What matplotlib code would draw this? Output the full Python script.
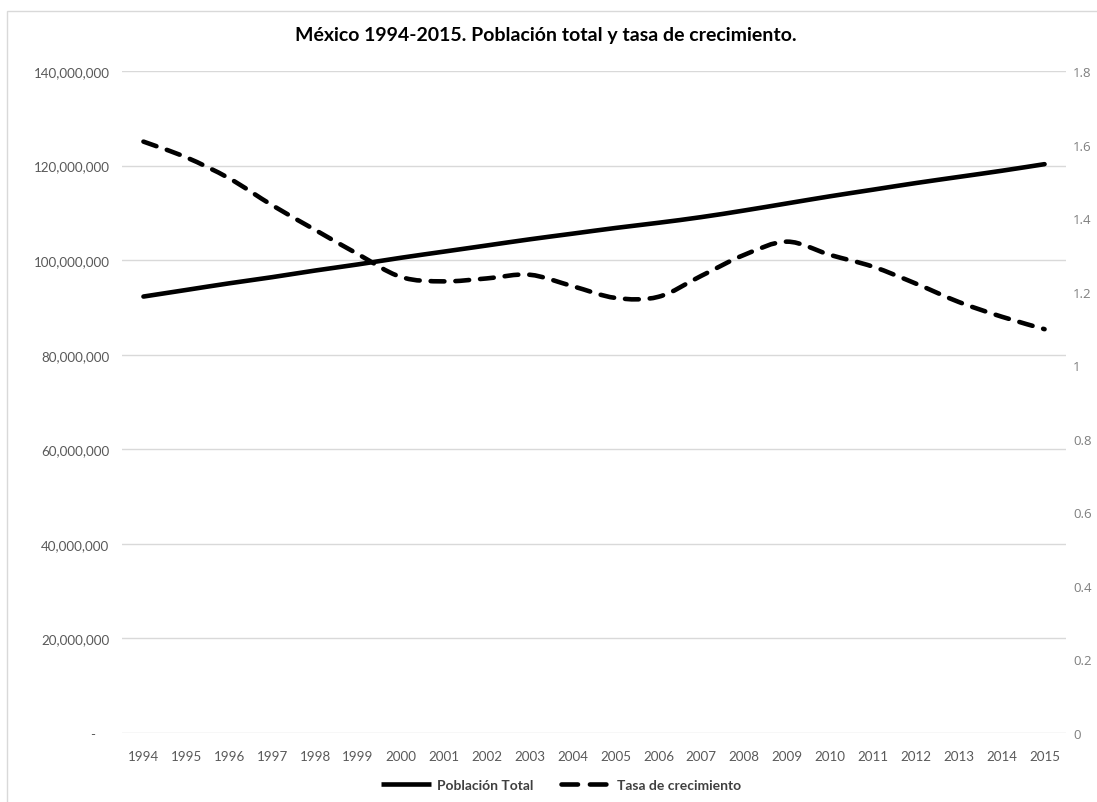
import numpy as np
import matplotlib
matplotlib.use("Agg")
import matplotlib.pyplot as plt
from matplotlib.path import Path
from matplotlib.patches import PathPatch, Rectangle
from matplotlib.lines import Line2D
from matplotlib.ticker import FuncFormatter, MultipleLocator

# datos
years = list(range(1994, 2016))
poblacion = [92.3, 93.7, 95.1, 96.4, 97.8, 99.1, 100.5, 101.8, 103.1, 104.4, 105.6,
             106.8, 107.9, 109.1, 110.5, 112.0, 113.5, 114.9, 116.3, 117.6, 118.9, 120.3]
poblacion = [p * 1e6 for p in poblacion]
tasa = [1.608, 1.565, 1.508, 1.435, 1.368, 1.302, 1.240, 1.228, 1.236, 1.246, 1.215,
        1.183, 1.186, 1.243, 1.300, 1.336, 1.300, 1.268, 1.222, 1.172, 1.132, 1.098]

W, H = 1097, 803
GRID = "#D9D9D9"
TXT = "#595959"
LW = 3.3
DASH = (0, (3.0, 2.4))


def smooth_path(x, y, k=1 / 6):
    # curva bezier por los puntos (linea suavizada estilo excel)
    x = np.asarray(x, float)
    y = np.asarray(y, float)
    px = np.concatenate([[x[0]], x, [x[-1]]])
    py = np.concatenate([[y[0]], y, [y[-1]]])
    verts = [(x[0], y[0])]
    codes = [Path.MOVETO]
    for i in range(1, len(x)):
        c1 = (px[i] + (px[i + 1] - px[i - 1]) * k, py[i] + (py[i + 1] - py[i - 1]) * k)
        c2 = (px[i + 1] - (px[i + 2] - px[i]) * k, py[i + 1] - (py[i + 2] - py[i]) * k)
        verts += [c1, c2, (x[i], y[i])]
        codes += [Path.CURVE4] * 3
    return Path(verts, codes)


plt.rcParams['font.family'] = ['Lato', 'DejaVu Sans']

fig = plt.figure(figsize=(W / 100, H / 100), dpi=100)
fig.patches.append(Rectangle((7 / W, -0.1), 1.2, 1 - 12 / H + 0.1, transform=fig.transFigure,
                             fill=False, edgecolor=GRID, lw=1))

ax = fig.add_axes([122 / W, 1 - 734 / H, (1066 - 122) / W, (734 - 72) / H])
ax2 = ax.twinx()

xs = np.arange(len(years))
ax.set_xlim(-0.5, len(years) - 0.5)
ax.set_ylim(0, 140e6)
ax2.set_ylim(0, 1.8)

ax.yaxis.set_major_locator(MultipleLocator(20e6))
ax.yaxis.set_major_formatter(FuncFormatter(lambda v, p: "-    " if v == 0 else f"{v:,.0f}"))
ax2.yaxis.set_major_locator(MultipleLocator(0.2))
ax2.yaxis.set_major_formatter(FuncFormatter(lambda v, p: f"{v:.1f}".rstrip("0").rstrip(".")))

ax.set_xticks(xs)
ax.set_xticklabels([str(y) for y in years])
ax.grid(axis="y", color=GRID, lw=1)
ax.set_axisbelow(True)

for a in (ax, ax2):
    for s in a.spines.values():
        s.set_visible(False)
ax.tick_params(axis="both", length=0, colors=TXT, labelsize=9.6)
ax.tick_params(axis="y", pad=9)
ax.tick_params(axis="x", pad=12)
ax2.tick_params(axis="y", length=0, colors="#7F7F7F", labelsize=9.5, pad=5)
for t in ax2.get_yticklabels():
    t.set_family("Open Sans")

p1 = PathPatch(smooth_path(xs, poblacion), fill=False, edgecolor="black", lw=LW,
               capstyle="round", joinstyle="round")
ax.add_patch(p1)
p2 = PathPatch(smooth_path(xs, tasa), fill=False, edgecolor="black", lw=LW,
               linestyle=DASH, capstyle="round", joinstyle="round")
ax2.add_patch(p2)

fig.text(546 / W, 1 - 35 / H, "México 1994-2015. Población total y tasa de crecimiento.",
         ha="center", va="center", fontsize=14, fontweight="bold", color="black")

handles = [Line2D([], [], color="black", lw=LW, solid_capstyle="butt"),
           Line2D([], [], color="black", lw=LW, linestyle=(0, (3.6, 2.6)), dash_capstyle="round")]
fig.legend(handles, ["Población Total", "Tasa de crecimiento"], loc="center",
           bbox_to_anchor=(561 / W, 1 - 786 / H), ncol=2, frameon=False,
           handlelength=3.6, handletextpad=0.4, columnspacing=2.0,
           prop={"weight": "bold", "size": 10}, labelcolor="#404040")

fig.savefig("out.png", dpi=100)
